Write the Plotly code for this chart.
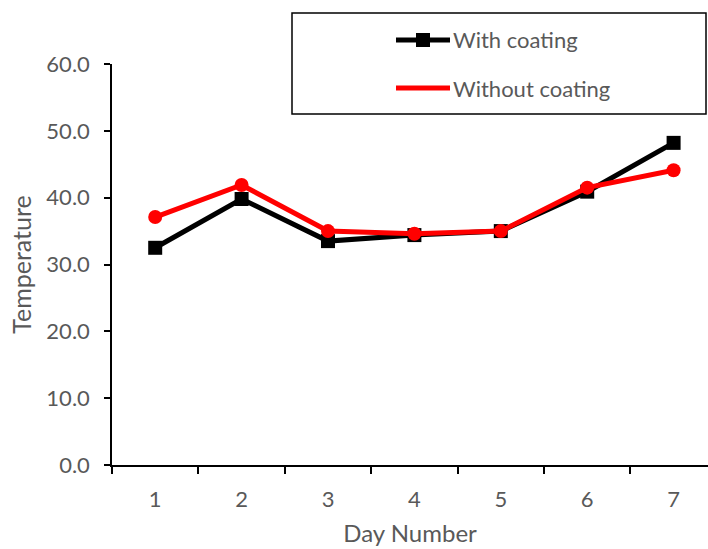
import plotly.graph_objects as go

days = [1, 2, 3, 4, 5, 6, 7]
with_coating = [32.5, 39.8, 33.5, 34.4, 35.0, 40.9, 48.2]
without_coating = [37.1, 41.9, 35.0, 34.6, 35.0, 41.5, 44.1]
series_names = ["With coating", "Without coating"]
series_colors = ["#000000", "#FF0000"]
y_ticks = [0, 10, 20, 30, 40, 50, 60]

FONT = "Lato"
GRAY = "#595959"

fig = go.Figure()
fig.add_trace(go.Scatter(x=days, y=with_coating, mode="lines+markers", name=series_names[0],
                         line=dict(color=series_colors[0], width=5),
                         marker=dict(symbol="square", size=14, color=series_colors[0]),
                         showlegend=False, cliponaxis=False))
fig.add_trace(go.Scatter(x=days, y=without_coating, mode="lines+markers", name=series_names[1],
                         line=dict(color=series_colors[1], width=5),
                         marker=dict(symbol="circle", size=14, color=series_colors[1]),
                         showlegend=False, cliponaxis=False))

# paper coords: plot area x from 112 to 708 (596 px), y from 64 to 465 (401 px)
def px_x(p):
    return (p - 112) / 596.0
def px_y(p):
    return (465 - p) / 401.0

# manual legend (Excel style)
shapes = [dict(type="rect", xref="paper", yref="paper", x0=px_x(292), x1=px_x(706), y0=px_y(114), y1=px_y(13),
               line=dict(color="#000000", width=1.5), fillcolor="rgba(0,0,0,0)")]
rows = [40, 88]
for i, (nm, col) in enumerate(zip(series_names, series_colors)):
    yy = px_y(rows[i])
    shapes.append(dict(type="line", xref="paper", yref="paper", x0=px_x(396), x1=px_x(450), y0=yy, y1=yy,
                       line=dict(color=col, width=5)))
    if i == 0:
        shapes.append(dict(type="rect", xref="paper", yref="paper", x0=px_x(416), x1=px_x(430),
                           y0=px_y(rows[i] + 7), y1=px_y(rows[i] - 7),
                           line=dict(color=col, width=0), fillcolor=col))
annotations = []
for i, nm in enumerate(series_names):
    annotations.append(dict(xref="paper", yref="paper", x=px_x(451), y=px_y(rows[i]), text=nm,
                            showarrow=False, xanchor="left", yanchor="middle",
                            font=dict(family=FONT, size=22, color=GRAY)))

fig.update_layout(
    width=708, height=549,
    margin=dict(l=112, r=0, t=64, b=84),
    paper_bgcolor="white", plot_bgcolor="white",
    font=dict(family=FONT, color=GRAY, size=22),
    shapes=shapes, annotations=annotations,
    xaxis=dict(range=[0.5, 0.5 + 596 / 86.4], tickvals=days, ticktext=[str(d) for d in days],
               ticks="", showgrid=False, zeroline=False,
               showline=True, linecolor="#000000", linewidth=1.5,
               ticklabelstandoff=14,
               minor=dict(tickvals=[d - 0.5 for d in days] + [7.5], ticks="outside", ticklen=7,
                          tickcolor="#000000", tickwidth=1.5, showgrid=False),
               tickfont=dict(family=FONT, size=22, color=GRAY),
               title=dict(text="Day Number", font=dict(family=FONT, size=24, color=GRAY), standoff=14)),
    yaxis=dict(range=[0, 60], tickvals=y_ticks, ticktext=[f"{v:.1f}" for v in y_ticks],
               ticks="outside", ticklen=6, tickcolor="#000000", tickwidth=1.5,
               showgrid=False, zeroline=False,
               showline=True, linecolor="#000000", linewidth=1.5,
               ticklabelstandoff=10,
               tickfont=dict(family=FONT, size=22, color=GRAY),
               title=dict(text="Temperature", font=dict(family=FONT, size=25, color=GRAY), standoff=8)),
)

fig.write_html("out.html")
